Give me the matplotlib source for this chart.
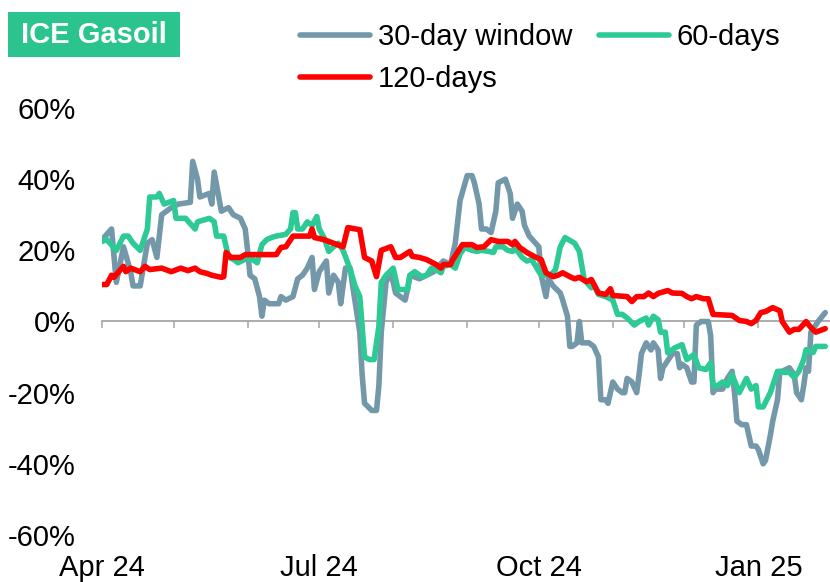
import matplotlib
matplotlib.use("Agg")
import matplotlib.pyplot as plt
import matplotlib.dates as mdates
from matplotlib.patches import Rectangle
from matplotlib.ticker import FuncFormatter
import pandas as pd

# series (dates of visible turning points, values in %)
w30_dates = [
    "2024-04-01", "2024-04-05", "2024-04-07", "2024-04-10", "2024-04-13", "2024-04-14",
    "2024-04-17", "2024-04-20", "2024-04-22", "2024-04-24", "2024-04-26", "2024-04-30",
    "2024-05-03", "2024-05-08", "2024-05-09", "2024-05-11", "2024-05-12", "2024-05-16",
    "2024-05-17", "2024-05-18", "2024-05-21", "2024-05-24", "2024-05-26", "2024-05-29",
    "2024-05-31", "2024-06-01", "2024-06-02", "2024-06-04", "2024-06-06", "2024-06-07",
    "2024-06-08", "2024-06-10", "2024-06-14", "2024-06-15", "2024-06-17", "2024-06-20",
    "2024-06-22", "2024-06-24", "2024-06-26", "2024-06-28", "2024-06-29", "2024-07-01",
    "2024-07-04", "2024-07-05", "2024-07-07", "2024-07-09", "2024-07-10", "2024-07-12",
    "2024-07-14", "2024-07-15", "2024-07-18", "2024-07-19", "2024-07-20", "2024-07-23",
    "2024-07-25", "2024-07-26", "2024-07-27", "2024-07-29", "2024-07-31", "2024-08-02",
    "2024-08-06", "2024-08-07", "2024-08-08", "2024-08-12", "2024-08-15", "2024-08-18",
    "2024-08-22", "2024-08-25", "2024-08-27", "2024-08-29", "2024-09-01", "2024-09-03",
    "2024-09-04", "2024-09-06", "2024-09-07", "2024-09-09", "2024-09-11", "2024-09-13",
    "2024-09-14", "2024-09-17", "2024-09-19", "2024-09-20", "2024-09-22", "2024-09-24",
    "2024-09-25", "2024-09-27", "2024-10-01", "2024-10-02", "2024-10-04", "2024-10-05",
    "2024-10-07", "2024-10-10", "2024-10-11", "2024-10-13", "2024-10-14", "2024-10-15",
    "2024-10-17", "2024-10-18", "2024-10-19", "2024-10-22", "2024-10-24", "2024-10-26",
    "2024-10-27", "2024-10-29", "2024-10-30", "2024-11-01", "2024-11-03", "2024-11-05",
    "2024-11-06", "2024-11-07", "2024-11-09", "2024-11-11", "2024-11-12", "2024-11-13",
    "2024-11-15", "2024-11-17", "2024-11-18", "2024-11-20", "2024-11-21", "2024-11-22",
    "2024-11-24", "2024-11-26", "2024-11-28", "2024-11-29", "2024-11-30", "2024-12-02",
    "2024-12-04", "2024-12-05", "2024-12-06", "2024-12-08", "2024-12-11", "2024-12-12",
    "2024-12-13", "2024-12-14", "2024-12-17", "2024-12-19", "2024-12-21", "2024-12-22",
    "2024-12-23", "2024-12-25", "2024-12-27", "2024-12-29", "2024-12-31", "2025-01-01",
    "2025-01-03", "2025-01-04", "2025-01-06", "2025-01-07", "2025-01-09", "2025-01-10",
    "2025-01-11", "2025-01-14", "2025-01-16", "2025-01-17", "2025-01-19", "2025-01-20",
    "2025-01-21", "2025-01-22", "2025-01-23", "2025-01-26", "2025-01-29",
]
w30_vals = [
    23, 26, 11, 21, 14, 10,
    10, 22, 23, 18, 30, 32,
    33, 33.5, 45, 40, 35, 36,
    33, 42, 31, 32, 30, 29,
    26, 20, 13, 12, 7, 1.5,
    6, 5, 5, 7, 6, 7,
    12, 13, 15, 18, 9, 14,
    17, 8, 13, 11, 5, 15,
    15, 10, -3, -15, -23, -25,
    -25, -18, -3, 11, 14, 8,
    6, 9, 13, 12, 13, 14,
    17, 16, 22, 34, 41, 41,
    39, 33, 26, 26, 25, 31,
    39, 40, 36, 29, 33, 31,
    27, 24, 21, 13, 7, 12,
    10, 8, 6, 1.5, -7, -7,
    -6, 0, -6, -6, -7, -10,
    -22, -22, -23, -17, -19, -20,
    -20, -16, -17, -20, -15, -9,
    -6, -8, -6, -8, -16, -13,
    -11, -9, -9, -13, -12, -13,
    -17, -17, -1, 0, 0, -4,
    -20, -19, -19, -16, -14, -20,
    -28, -29, -29, -35, -35, -36,
    -40, -39, -32, -28, -22, -14,
    -14, -13, -15, -20, -22, -18,
    -13, -14, -3, 0, 2.5,
]

w60_dates = [
    "2024-04-01", "2024-04-03", "2024-04-07", "2024-04-10", "2024-04-12", "2024-04-14",
    "2024-04-17", "2024-04-19", "2024-04-20", "2024-04-21", "2024-04-24", "2024-04-25",
    "2024-04-27", "2024-05-01", "2024-05-02", "2024-05-06", "2024-05-10", "2024-05-11",
    "2024-05-16", "2024-05-18", "2024-05-19", "2024-05-22", "2024-05-23", "2024-05-24",
    "2024-05-26", "2024-05-28", "2024-05-31", "2024-06-03", "2024-06-05", "2024-06-07",
    "2024-06-09", "2024-06-11", "2024-06-13", "2024-06-17", "2024-06-19", "2024-06-20",
    "2024-06-21", "2024-06-22", "2024-06-24", "2024-06-26", "2024-06-28", "2024-06-30",
    "2024-07-01", "2024-07-03", "2024-07-05", "2024-07-07", "2024-07-09", "2024-07-11",
    "2024-07-14", "2024-07-16", "2024-07-18", "2024-07-19", "2024-07-20", "2024-07-22",
    "2024-07-24", "2024-07-26", "2024-07-27", "2024-07-29", "2024-08-01", "2024-08-03",
    "2024-08-07", "2024-08-08", "2024-08-10", "2024-08-13", "2024-08-15", "2024-08-17",
    "2024-08-19", "2024-08-21", "2024-08-22", "2024-08-25", "2024-08-27", "2024-08-29",
    "2024-08-31", "2024-09-03", "2024-09-05", "2024-09-07", "2024-09-10", "2024-09-12",
    "2024-09-13", "2024-09-16", "2024-09-18", "2024-09-20", "2024-09-21", "2024-09-24",
    "2024-09-26", "2024-09-28", "2024-10-02", "2024-10-04", "2024-10-06", "2024-10-08",
    "2024-10-10", "2024-10-12", "2024-10-16", "2024-10-18", "2024-10-20", "2024-10-23",
    "2024-10-24", "2024-10-26", "2024-10-29", "2024-11-01", "2024-11-03", "2024-11-05",
    "2024-11-07", "2024-11-10", "2024-11-12", "2024-11-15", "2024-11-16", "2024-11-18",
    "2024-11-20", "2024-11-21", "2024-11-23", "2024-11-24", "2024-11-27", "2024-11-30",
    "2024-12-02", "2024-12-05", "2024-12-07", "2024-12-10", "2024-12-12", "2024-12-13",
    "2024-12-15", "2024-12-17", "2024-12-19", "2024-12-21", "2024-12-24", "2024-12-27",
    "2024-12-29", "2024-12-31", "2025-01-01", "2025-01-03", "2025-01-06", "2025-01-09",
    "2025-01-12", "2025-01-14", "2025-01-16", "2025-01-18", "2025-01-20", "2025-01-21",
    "2025-01-24", "2025-01-25", "2025-01-29",
]
w60_vals = [
    22.5, 23, 20, 24, 24, 22,
    20, 24, 26, 35, 35, 36,
    33, 34, 29, 29, 26, 28,
    29, 28, 24, 24, 21, 18,
    17.5, 16.5, 17.5, 17.5, 16.5, 21.6,
    23, 23.6, 24, 24.5, 26, 30.6,
    30.6, 26, 26, 28, 27, 29.5,
    26, 23.6, 19.7, 21, 22, 20,
    14.6, 10, 7, -1.4, -10, -10.7,
    -10.7, -1.4, 11, 13, 15, 9,
    9, 13, 14, 12.6, 13, 15,
    14.6, 13.7, 15.5, 16, 15, 19,
    20.8, 20, 19.7, 20, 19.7, 19.4,
    21, 21, 20, 19.7, 20.8, 18,
    17, 17.4, 13, 13, 13, 14.6,
    21, 23.6, 22, 19.7, 11.8, 9.5,
    10.4, 7.6, 7, 6, 2, 2,
    1, -1, 0, 1, -1, 1.5,
    0.5, -3, -3, -8.8, -7.4, -6.5,
    -10.7, -9.3, -13, -13.5, -11.6, -18,
    -18, -17, -18, -15, -20, -16,
    -19, -18, -24, -24, -20, -14,
    -14.3, -14.3, -15.7, -14, -10.7, -7.9,
    -8.7, -7, -7,
]

w120_dates = [
    "2024-04-01", "2024-04-03", "2024-04-05", "2024-04-06", "2024-04-08", "2024-04-10",
    "2024-04-11", "2024-04-13", "2024-04-17", "2024-04-19", "2024-04-21", "2024-04-26",
    "2024-04-30", "2024-05-04", "2024-05-07", "2024-05-10", "2024-05-12", "2024-05-15",
    "2024-05-17", "2024-05-21", "2024-05-22", "2024-05-23", "2024-05-25", "2024-05-29",
    "2024-05-31", "2024-06-13", "2024-06-15", "2024-06-17", "2024-06-20", "2024-06-27",
    "2024-06-28", "2024-06-29", "2024-07-03", "2024-07-07", "2024-07-11", "2024-07-13",
    "2024-07-18", "2024-07-20", "2024-07-23", "2024-07-25", "2024-07-27", "2024-07-31",
    "2024-08-02", "2024-08-04", "2024-08-08", "2024-08-09", "2024-08-12", "2024-08-15",
    "2024-08-19", "2024-08-21", "2024-08-22", "2024-08-25", "2024-08-26", "2024-08-30",
    "2024-09-03", "2024-09-05", "2024-09-08", "2024-09-11", "2024-09-14", "2024-09-18",
    "2024-09-20", "2024-09-21", "2024-09-23", "2024-09-26", "2024-09-29", "2024-10-02",
    "2024-10-04", "2024-10-07", "2024-10-09", "2024-10-11", "2024-10-14", "2024-10-16",
    "2024-10-18", "2024-10-21", "2024-10-23", "2024-10-26", "2024-10-29", "2024-10-31",
    "2024-11-01", "2024-11-07", "2024-11-09", "2024-11-11", "2024-11-14", "2024-11-16",
    "2024-11-18", "2024-11-20", "2024-11-24", "2024-11-26", "2024-11-30", "2024-12-02",
    "2024-12-04", "2024-12-06", "2024-12-09", "2024-12-11", "2024-12-13", "2024-12-21",
    "2024-12-24", "2024-12-27", "2024-12-29", "2024-12-31", "2025-01-02", "2025-01-04",
    "2025-01-07", "2025-01-10", "2025-01-11", "2025-01-14", "2025-01-16", "2025-01-18",
    "2025-01-21", "2025-01-23", "2025-01-25", "2025-01-29",
]
w120_vals = [
    10.4, 10.4, 13, 12.4, 14, 15.5,
    14, 15, 14, 15.5, 14.6, 15,
    14, 15, 14.3, 15, 14, 13.5,
    13, 12.4, 12.6, 19.4, 18, 18,
    18.8, 18.8, 20.8, 21, 24, 24,
    26, 23.6, 23, 22, 21, 26.4,
    25.8, 18, 17, 12.6, 20, 21,
    18, 18, 19.7, 18.3, 18, 17.4,
    16, 15, 16, 16, 17.4, 21.6,
    21.6, 20.8, 21, 23, 22.5, 22.5,
    21.6, 22.5, 20.8, 19.4, 18.3, 17.4,
    13.7, 12.6, 13, 13.7, 12.6, 12,
    12.4, 11.2, 11.8, 8, 7.6, 9.2,
    7.3, 7, 5.6, 7, 7, 8,
    7, 7.9, 8.7, 8, 7.9, 7,
    6.4, 7, 6.4, 6.4, 2, 1.7,
    0.3, 0, -0.6, 0.3, 2.5, 2.8,
    3.9, 3, 0, -3, -2.2, -2.2,
    0, -1.7, -3, -2,
]

series_labels = ["30-day window", "60-days", "120-days"]
series_colors = ["#7398aa", "#2dca96", "#ff0000"]
y_ticks = [-60, -40, -20, 0, 20, 40, 60]

plt.rcParams['font.family'] = ['Liberation Sans', 'DejaVu Sans']
plt.rcParams['axes.unicode_minus'] = False
FS = 21

fig = plt.figure(figsize=(8.3, 5.82), dpi=100)
ax = fig.add_axes([0.1229, 0.0808, 0.8771, 0.7336])

series = [(w30_dates, w30_vals), (w60_dates, w60_vals), (w120_dates, w120_vals)]
handles = []
for (d, v), lab, col in zip(series, series_labels, series_colors):
    ln, = ax.plot(pd.to_datetime(d), v, color=col, lw=4.0, label=lab, zorder=3,
                  solid_joinstyle='round', solid_capstyle='round')
    handles.append(ln)

ax.set_ylim(-60, 60)
ax.set_yticks(y_ticks)
ax.yaxis.set_major_formatter(FuncFormatter(lambda v, p: f"{v:.0f}%"))
ax.tick_params(axis='y', length=0, pad=19, labelsize=FS)
ax.set_xlim(pd.Timestamp("2024-04-01"), pd.Timestamp("2025-01-31"))

for s in ['top', 'right', 'left']:
    ax.spines[s].set_visible(False)
ax.spines['bottom'].set_position(('data', 0))
ax.spines['bottom'].set_color('#a6a6a6')
ax.spines['bottom'].set_linewidth(1.3)
ax.xaxis.set_major_locator(mdates.MonthLocator())
ax.tick_params(axis='x', direction='out', length=5, width=1.1, color='#a6a6a6',
               labelbottom=False)

# quarterly labels sit at the bottom of the plot, not on the zero line
sec = ax.secondary_xaxis('bottom')
sec.xaxis.set_major_locator(mdates.MonthLocator(bymonth=[1, 4, 7, 10]))
sec.xaxis.set_major_formatter(mdates.DateFormatter('%b %y'))
sec.tick_params(length=0, pad=14, labelsize=FS)
sec.spines['bottom'].set_visible(False)

# legend: 30-day and 60-days on first row, 120-days below
order = [0, 2, 1]
fig.legend([handles[i] for i in order], [series_labels[i] for i in order],
           loc='upper left', bbox_to_anchor=(0.361, 0.96), ncol=2, frameon=False,
           fontsize=FS, handlelength=2.4, handletextpad=0.27, columnspacing=0.92,
           labelspacing=0.47, borderpad=0, borderaxespad=0)

# title badge
fig.patches.append(Rectangle((8 / 830, 1 - 57 / 582), 172 / 830, 45 / 582,
                             transform=fig.transFigure, facecolor='#2bc48f',
                             edgecolor='none'))
fig.text(94 / 830, 1 - 35 / 582, "ICE Gasoil", color='white', fontsize=21,
         fontweight='bold', ha='center', va='center')

fig.savefig("out.png", dpi=100)
